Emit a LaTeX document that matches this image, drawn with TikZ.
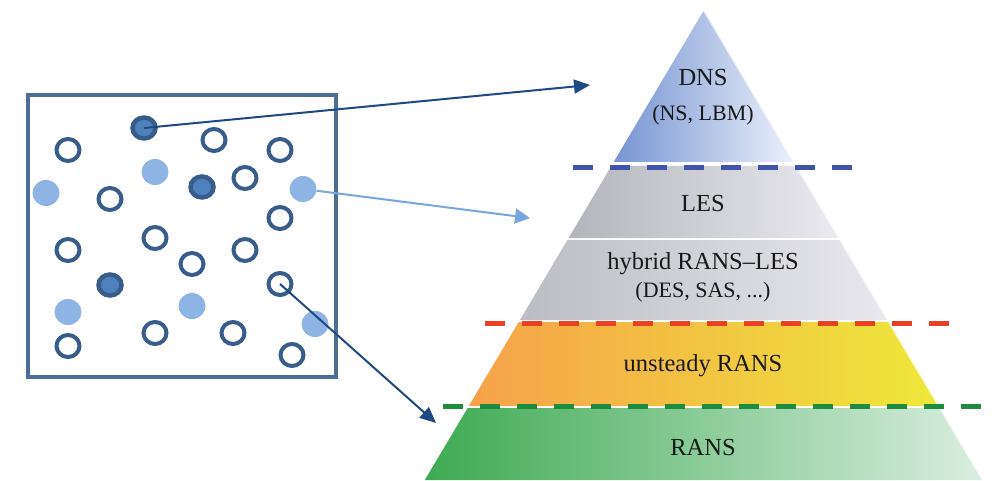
\documentclass[tikz,border=0pt]{standalone}
\usepackage{fontspec}
\setmainfont{Liberation Serif}
\usetikzlibrary{arrows.meta,shapes.geometric}
\definecolor{ringblue}{RGB}{56,93,138}
\definecolor{fillblue}{RGB}{79,129,189}
\definecolor{lightdot}{RGB}{142,180,227}
\definecolor{navy}{RGB}{31,73,130}
\definecolor{arrowlight}{RGB}{122,166,224}
\definecolor{dashblue}{RGB}{64,84,170}
\definecolor{dashred}{RGB}{236,64,36}
\definecolor{dashgreen}{RGB}{30,140,62}
\definecolor{txt}{RGB}{25,25,25}
\begin{document}
\begin{tikzpicture}[x=1pt,y=-1pt,
  opencirc/.style={ellipse,draw=ringblue,fill=white,line width=4pt,inner sep=0pt,minimum width=23pt,minimum height=22pt},
  darkcirc/.style={ellipse,draw=ringblue,fill=fillblue,line width=4.5pt,inner sep=0pt,minimum width=23pt,minimum height=21pt},
  lightcirc/.style={ellipse,fill=lightdot,inner sep=0pt,minimum width=27pt,minimum height=26pt},
  boxline/.style={draw=ringblue!90!white,line width=4pt},
  navyarrow/.style={draw=navy,line width=2pt,-{Triangle[length=16pt,width=14pt]}},
  lightarrow/.style={draw=arrowlight,line width=2pt,-{Triangle[length=15pt,width=15pt]}},
  levdash/.style={line width=5pt,dash pattern=on 20pt off 17pt},
  lbl/.style={font=\fontsize{24.5}{28}\selectfont,text=txt,inner sep=0pt},
  sublbl/.style={font=\fontsize{22}{26}\selectfont,text=txt,inner sep=0pt},
  bevel/.style={draw=white,opacity=0.75,line width=2.5pt}
]
\useasboundingbox (0,0) rectangle (992,481);

% ---------- pyramid bands ----------
\shade[left color={rgb,255:red,118;green,148;blue,210},right color={rgb,255:red,236;green,241;blue,250}]
  (704,10) -- (794.3,162) -- (613.7,162) -- cycle;
\shade[left color={rgb,255:red,180;green,180;blue,188},right color={rgb,255:red,234;green,234;blue,240}]
  (611.3,166) -- (796.7,166) -- (839.4,238) -- (568.6,238) -- cycle;
\shade[left color={rgb,255:red,188;green,188;blue,196},right color={rgb,255:red,232;green,232;blue,238}]
  (567.4,240) -- (840.6,240) -- (888.1,320) -- (519.9,320) -- cycle;
\shade[left color={rgb,255:red,246;green,162;blue,74},right color={rgb,255:red,238;green,232;blue,58}]
  (518.7,322) -- (889.3,322) -- (939.2,406) -- (468.8,406) -- cycle;
\shade[left color={rgb,255:red,62;green,170;blue,82},right color={rgb,255:red,218;green,238;blue,224}]
  (467.6,408) -- (940.4,408) -- (983.2,480) -- (424.8,480) -- cycle;
% bevel highlights on right edges
\draw[bevel] (704,10) -- (794.3,162);
\draw[bevel] (796.7,166) -- (839.4,238);
\draw[bevel] (840.6,240) -- (888.1,320);
\draw[bevel] (889.3,322) -- (939.2,406);
\draw[bevel] (940.4,408) -- (983.2,480);

% ---------- level separators ----------
\draw[levdash,dashblue] (573,168) -- (856,168);
\draw[levdash,dashred] (485,323) -- (950,323);
\draw[levdash,dashgreen] (443,406) -- (988,406);

% ---------- labels ----------
\node[lbl] (dns) at (703,78) {DNS};
\node[sublbl] (dnssub) at (703,115) {(NS, LBM)};
\node[lbl] (les) at (703,204) {LES};
\node[lbl] (hyb) at (703,264) {hybrid RANS--LES};
\node[sublbl] (hybsub) at (703,292) {(DES, SAS, ...)};
\node[lbl] (urans) at (703,366) {unsteady RANS};
\node[lbl] (rans) at (703,448) {RANS};

% ---------- domain box ----------
\draw[boxline] (28,95) rectangle (336,377);

\node[opencirc] (o1) at (68,150) {};
\node[opencirc] (o2) at (214,140) {};
\node[opencirc] (o3) at (280,150) {};
\node[opencirc] (o4) at (110,199) {};
\node[opencirc] (o5) at (245,178) {};
\node[opencirc] (o6) at (280,218) {};
\node[opencirc] (o7) at (68,250) {};
\node[opencirc] (o8) at (155,238) {};
\node[opencirc] (o9) at (245,250) {};
\node[opencirc] (o10) at (192,264) {};
\node[opencirc] (o11) at (280,284) {};
\node[opencirc] (o12) at (68,346) {};
\node[opencirc] (o13) at (155,333) {};
\node[opencirc] (o14) at (233,333) {};
\node[opencirc] (o15) at (292,355) {};

\node[darkcirc] (d1) at (144,128) {};
\node[darkcirc] (d2) at (202,187) {};
\node[darkcirc] (d3) at (110,285) {};

\node[lightcirc] (l1) at (46,193) {};
\node[lightcirc] (l2) at (155,172) {};
\node[lightcirc] (l3) at (303,189) {};
\node[lightcirc] (l4) at (68,312) {};
\node[lightcirc] (l5) at (192,306) {};
\node[lightcirc] (l6) at (315,324) {};

% ---------- connectors ----------
\coordinate (t1) at (590,85);
\coordinate (t2) at (530,218);
\coordinate (t3) at (436,423);
\draw[navyarrow] (d1.center) -- (t1);
\draw[lightarrow] (l3) -- (t2);
\draw[navyarrow] (o11.center) -- (t3);
\end{tikzpicture}
\end{document}
